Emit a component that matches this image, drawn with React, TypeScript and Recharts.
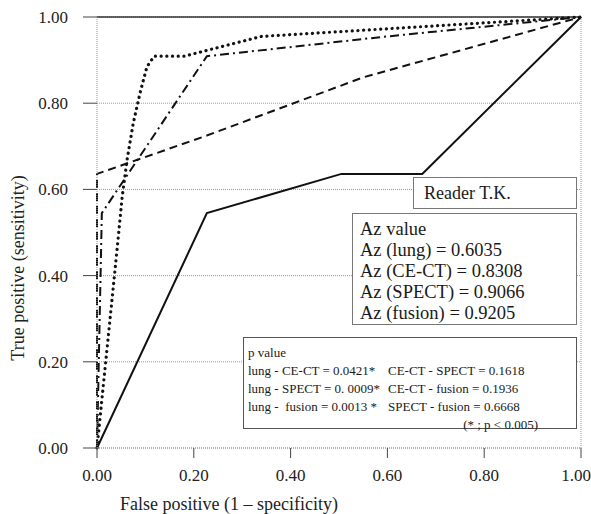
import React from 'react';
import { LineChart, Line, XAxis, YAxis, CartesianGrid, ReferenceLine } from 'recharts';

// ROC data (false positive fraction, true positive fraction)
const lungFP = [0, 0.227, 0.505, 0.672, 1];
const lungTP = [0, 0.545, 0.636, 0.636, 1];

const ceCtFP = [0, 0, 0.227, 0.55, 1];
const ceCtTP = [0, 0.636, 0.725, 0.86, 1];

const spectFP = [0, 0.041, 0.052, 0.062, 0.075, 0.089, 0.103, 0.118, 0.18, 0.34, 1];
const spectTP = [0, 0.455, 0.582, 0.668, 0.754, 0.824, 0.884, 0.909, 0.909, 0.955, 1];

const fusionFP = [0, 0.01, 0.227, 0.6, 1];
const fusionTP = [0, 0.545, 0.909, 0.955, 1];

const axisTicks = [0, 0.2, 0.4, 0.6, 0.8, 1];

const readerLabel = 'Reader T.K.';
const azLines = [
  'Az value',
  'Az (lung) = 0.6035',
  'Az (CE-CT) = 0.8308',
  'Az (SPECT) = 0.9066',
  'Az (fusion) = 0.9205',
];
const pTitle = 'p value';
const pLeft = ['lung - CE-CT = 0.0421*', 'lung - SPECT = 0. 0009*', 'lung -  fusion = 0.0013 *'];
const pRight = ['CE-CT - SPECT = 0.1618', 'CE-CT - fusion = 0.1936', 'SPECT - fusion = 0.6668'];
const pNote = '(* ; p < 0.005)';

const toPoints = (xs: number[], ys: number[]) => xs.map((x, i) => ({ x, y: ys[i] }));

const lungData = toPoints(lungFP, lungTP);
const ceCtData = toPoints(ceCtFP, ceCtTP);
const spectData = toPoints(spectFP, spectTP);
const fusionData = toPoints(fusionFP, fusionTP);

const FONT = '"Liberation Serif", "Times New Roman", serif';
const fmt = (v: number) => v.toFixed(2);

const boxBase: React.CSSProperties = {
  position: 'absolute',
  boxSizing: 'border-box',
  background: '#fff',
  border: '1px solid #777',
  fontFamily: FONT,
  color: '#1a1a1a',
  whiteSpace: 'pre',
};

export default function App() {
  return (
    <div style={{ position: 'absolute', left: 0, top: 0, width: 591, height: 514, background: '#fff' }}>
      <LineChart
        width={591}
        height={514}
        margin={{ top: 17, right: 10, bottom: 0, left: 0 }}
        style={{ fontFamily: FONT }}
      >
        <CartesianGrid vertical={false} stroke="#999" strokeDasharray="1 1" />
        <XAxis
          dataKey="x"
          type="number"
          domain={[0, 1]}
          ticks={axisTicks}
          tickFormatter={fmt}
          height={66}
          tickSize={10}
          tickMargin={11}
          stroke="#999"
          strokeDasharray="1 1"
          tickLine={{ stroke: '#444', strokeDasharray: 'none' }}
          tick={{ fill: '#222', fontSize: 17, fontFamily: FONT }}
          label={{
            content: () => (
              <text x={120} y={510} fill="#222" fontSize={18} fontFamily={FONT}>
                False positive (1 – specificity)
              </text>
            ),
          }}
        />
        <YAxis
          dataKey="y"
          type="number"
          domain={[0, 1]}
          ticks={axisTicks}
          tickFormatter={fmt}
          width={97}
          tickSize={14}
          tickMargin={15}
          stroke="#999"
          strokeDasharray="1 1"
          tickLine={{ stroke: '#444', strokeDasharray: 'none' }}
          tick={{ fill: '#222', fontSize: 17, fontFamily: FONT }}
          label={{
            content: () => (
              <text
                x={18}
                y={268}
                fill="#222"
                fontSize={18}
                fontFamily={FONT}
                textAnchor="middle"
                dominantBaseline="central"
                transform="rotate(-90 18 268)"
              >
                True positive (sensitivity)
              </text>
            ),
          }}
        />
        <ReferenceLine x={1} stroke="#999" strokeDasharray="1 1" />
        <ReferenceLine y={1} stroke="#333" strokeWidth={1.5} />
        <Line data={lungData} dataKey="y" stroke="#111" strokeWidth={2} dot={false} isAnimationActive={false} />
        <Line data={ceCtData} dataKey="y" stroke="#111" strokeWidth={2} strokeDasharray="8 5" dot={false} isAnimationActive={false} />
        <Line data={fusionData} dataKey="y" stroke="#111" strokeWidth={2} strokeDasharray="9 4 2 4" dot={false} isAnimationActive={false} />
        <Line data={spectData} dataKey="y" stroke="#111" strokeWidth={3.2} strokeDasharray="0.1 5.6" strokeLinecap="round" dot={false} isAnimationActive={false} />
      </LineChart>

      <div style={{ ...boxBase, left: 413, top: 177, width: 164, height: 32, fontSize: 18, lineHeight: '30px', paddingLeft: 10 }}>
        {readerLabel}
      </div>

      <div style={{ ...boxBase, left: 352, top: 213, width: 225, height: 112, fontSize: 18.5, lineHeight: '21px', paddingLeft: 7, paddingTop: 5 }}>
        {azLines.map((l) => (
          <div key={l}>{l}</div>
        ))}
      </div>

      <div style={{ ...boxBase, left: 243, top: 337, width: 334, height: 92, fontSize: 13, lineHeight: '18px', paddingLeft: 4, paddingTop: 6, border: '1px solid #555' }}>
        <div>{pTitle}</div>
        {pLeft.map((l, i) => (
          <div key={l} style={{ position: 'relative', height: 18 }}>
            <span>{l}</span>
            <span style={{ position: 'absolute', left: 140 }}>{pRight[i]}</span>
          </div>
        ))}
        <div style={{ width: 290, textAlign: 'right' }}>{pNote}</div>
      </div>
    </div>
  );
}
